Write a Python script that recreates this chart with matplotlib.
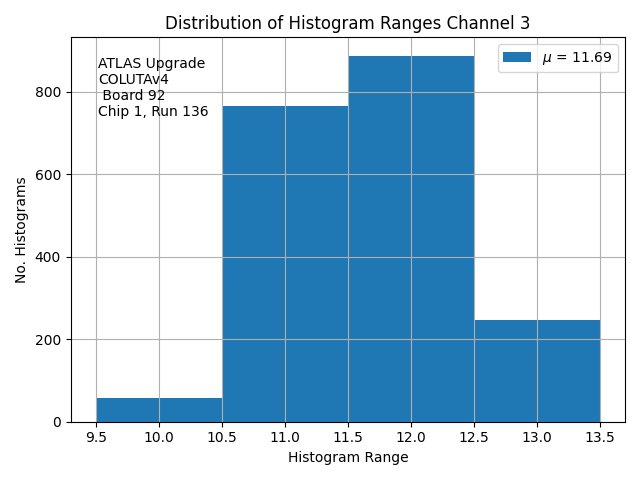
import matplotlib
matplotlib.use("Agg")
import matplotlib.pyplot as plt
import numpy as np

bin_edges = [9.5, 10.5, 11.5, 12.5, 13.5]
counts = [58, 764, 887, 247]
mean_label = r"$\mu$ = 11.69"

centers = [(a + b) / 2 for a, b in zip(bin_edges[:-1], bin_edges[1:])]

fig, ax = plt.subplots(figsize=(6.4, 4.8), dpi=100)
ax.hist(centers, bins=bin_edges, weights=counts, label=mean_label)
ax.grid()
ax.set_title("Distribution of Histogram Ranges Channel 3")
ax.set_xlabel("Histogram Range")
ax.set_ylabel("No. Histograms")
ax.text(0.05, 0.95, "ATLAS Upgrade\nCOLUTAv4\n Board 92\nChip 1, Run 136",
        transform=ax.transAxes, va="top", ha="left")
ax.legend(loc="upper right")
fig.tight_layout()
fig.savefig("out.png")
